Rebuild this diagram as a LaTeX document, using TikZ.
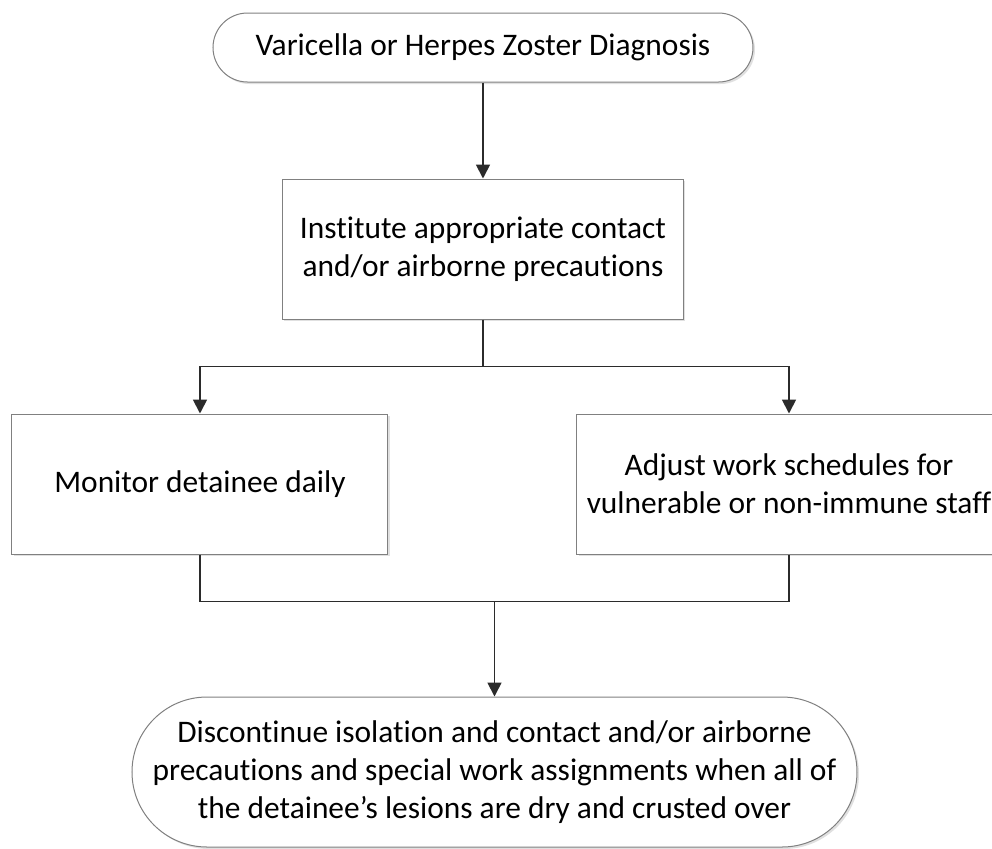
\documentclass[tikz,border=0pt]{standalone}
\usepackage{fontspec}
\setmainfont{Carlito}[Ligatures=NoCommon]
\usetikzlibrary{arrows.meta, positioning, calc, shadows}
\definecolor{Edge}{HTML}{808080}
\definecolor{Wire}{HTML}{2B2B2B}

\begin{document}
\begin{tikzpicture}[
      font=\fontsize{15.7}{19}\selectfont,
      term/.style={rectangle, draw=Edge, line width=0.5pt, fill=white, inner sep=0pt, align=center, drop shadow={shadow xshift=1pt, shadow yshift=-1pt, fill=black!30, opacity=0.4}},
      proc/.style={rectangle, draw=Edge, line width=0.5pt, fill=white, inner sep=0pt, align=center, minimum height=70pt, drop shadow={shadow xshift=1pt, shadow yshift=-1pt, fill=black!30, opacity=0.4}},
      line/.style={line width=0.9pt, Wire},
      arrow/.style={-{Triangle[length=7pt, width=7pt]}, line width=0.9pt, Wire},
  ]

  % frame of the picture
  \useasboundingbox (-241.5pt,23.75pt) rectangle ++(496pt,-424pt);
  \clip (-241.5pt,23.75pt) rectangle ++(496pt,-424pt);

  % Steps
  \node[term, minimum width=270pt, minimum height=34.5pt, rounded corners=17.25pt] (diag) at (0,0) {Varicella or Herpes Zoster Diagnosis};
  \node[proc, minimum width=200.5pt, below=48pt of diag] (inst) {Institute appropriate contact\\and/or airborne precautions};
  \node[proc, minimum width=188pt, below=47pt of inst, xshift=-141.5pt] (monitor) {Monitor detainee daily};
  \node[proc, minimum width=212pt, below=47pt of inst, xshift=153pt] (adjust) {Adjust work schedules for\\vulnerable or non-immune staff};
  \coordinate (mid) at ($(monitor.south)!0.5!(adjust.south)$);
  \node[term, minimum width=362.5pt, minimum height=75pt, rounded corners=37.5pt, below=71pt of mid] (discont) {Discontinue isolation and contact and/or airborne\\precautions and special work assignments when all of\\the detainee’s lesions are dry and crusted over};

  % Arrows
  \draw[arrow] (diag) -- (inst);
  \draw[line] (inst.south) -- ++(0,-23.5pt) coordinate (split);
  \draw[arrow] (split) -| (monitor.north);
  \draw[arrow] (split) -| (adjust.north);
  \draw[line] (monitor.south) -- ++(0,-23.5pt) -| (adjust.south);
  \draw[arrow] (mid) ++(0,-23.5pt) -- (discont.north);

\end{tikzpicture}
\end{document}
